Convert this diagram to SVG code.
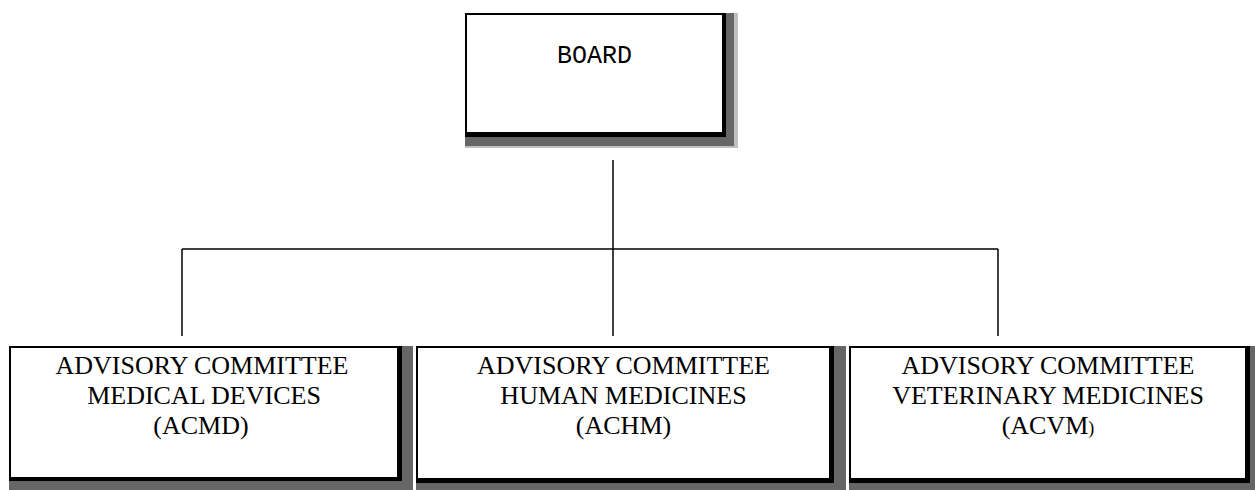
<svg xmlns="http://www.w3.org/2000/svg" width="1255" height="490" viewBox="0 0 1255 490">
<style>
.sh1{fill:#666666}
.sh2{fill:#c0c0c0}
.bd{fill:#000000}
.in{fill:#ffffff}
.conn{stroke:#000;stroke-width:1.5;fill:none}
</style>
<rect width="1255" height="490" fill="#fff"/>
<g id="board">
<rect class="sh2" x="465" y="13" width="273" height="135"/>
<rect class="sh1" x="465" y="13" width="269" height="133"/>
<rect class="bd" x="465" y="13" width="261" height="124"/>
<rect class="in" x="467" y="15" width="255" height="117"/>
<text font-family="'Liberation Mono', 'Courier New', monospace" font-size="25" fill="#000" x="594.5" y="63" text-anchor="middle">BOARD</text>
</g>
<g id="connectors">
<path class="conn" d="M613,160 V249 M182,249 H998 M182,249 V336 M613,249 V336 M998,249 V336"/>
</g>
<g id="acmd">
<rect class="sh1" x="9" y="346" width="404" height="150"/>
<rect class="bd" x="9" y="346" width="393" height="135"/>
<rect class="in" x="11" y="348" width="386" height="129"/>
<text font-family="'Liberation Serif', 'Times New Roman', serif" font-size="26" fill="#000" text-anchor="middle"><tspan x="202" y="374">ADVISORY COMMITTEE</tspan><tspan x="204" y="404">MEDICAL DEVICES</tspan><tspan x="201" y="434">(ACMD)</tspan></text>
</g>
<g id="achm">
<rect class="sh1" x="416" y="346" width="430" height="150"/>
<rect class="bd" x="416" y="346" width="418" height="137"/>
<rect class="in" x="418" y="348" width="411" height="130"/>
<text font-family="'Liberation Serif', 'Times New Roman', serif" font-size="26" fill="#000" text-anchor="middle"><tspan x="623.5" y="374">ADVISORY COMMITTEE</tspan><tspan x="623.5" y="404">HUMAN MEDICINES</tspan><tspan x="623.5" y="434">(ACHM)</tspan></text>
</g>
<g id="acvm">
<rect class="sh1" x="849" y="346" width="420" height="150"/>
<rect class="bd" x="849" y="346" width="401" height="137"/>
<rect class="in" x="851" y="348" width="394" height="130"/>
<text font-family="'Liberation Serif', 'Times New Roman', serif" font-size="26" fill="#000" text-anchor="middle"><tspan x="1048" y="374">ADVISORY COMMITTEE</tspan><tspan x="1048" y="404">VETERINARY MEDICINES</tspan><tspan x="1048" y="434">(ACVM<tspan font-size="18">)</tspan></tspan></text>
</g>
</svg>
